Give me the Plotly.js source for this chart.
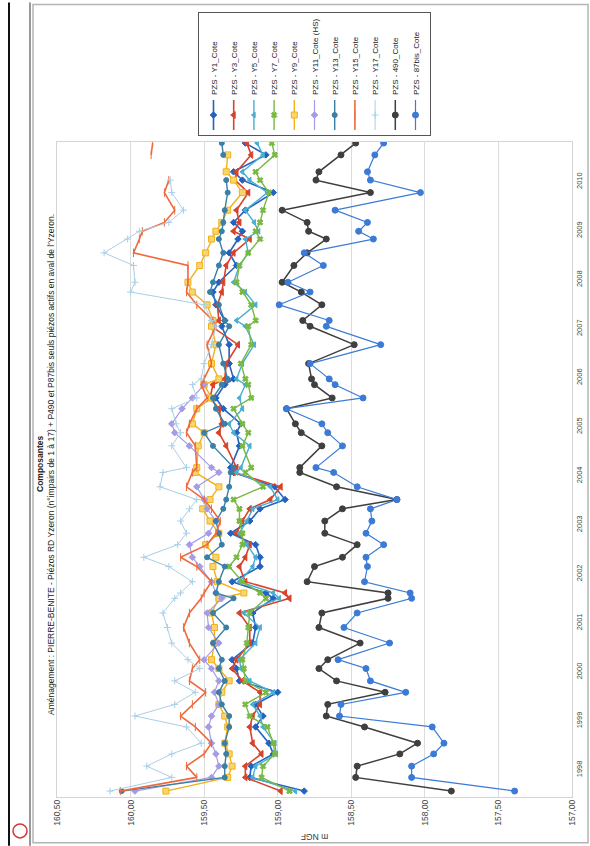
<!DOCTYPE html>
<html>
<head>
<meta charset="utf-8">
<script src="https://cdn.plot.ly/plotly-3.0.1.min.js"></script>
<style>
  html, body { margin: 0; padding: 0; background: #fff; width: 590px; height: 846px; overflow: hidden; }
  /* the sheet is printed in landscape and turned a quarter turn on the page */
  #sheet { position: absolute; left: 0; top: 0; width: 846px; height: 590px;
           transform-origin: 0 0; transform: translate(0, 846px) rotate(-90deg); }
</style>
</head>
<body>
<div id="sheet"></div>
<script>
// measurement dates (shared by all piezometers)
const dates = [
  '1997-07-20','1997-10-30','1998-01-22','1998-04-23','1998-07-12','1998-11-10',
  '1999-01-30','1999-04-27','1999-07-26','1999-10-19','2000-01-19','2000-03-25',
  '2000-07-27','2000-11-20','2001-03-08','2001-06-25','2001-08-04','2001-10-27',
  '2002-02-17','2002-04-27','2002-07-30','2002-10-23','2003-01-22','2003-04-23',
  '2003-07-01','2003-10-04','2004-01-19','2004-02-24','2004-08-04','2004-11-10',
  '2005-01-15','2005-05-08','2005-07-27','2005-11-03','2005-12-16','2006-04-09',
  '2006-08-28','2007-01-12','2007-02-24','2007-06-21','2007-09-24','2007-12-06',
  '2008-04-09','2008-07-12','2008-10-23','2008-12-20','2009-02-24','2009-05-26',
  '2009-10-04','2010-01-05','2010-03-08','2010-07-12','2010-10-08'
];

// water levels, m NGF
const y1 = [158.82,159.19,159.18,159.03,159.06,159.15,159.10,159.15,159.00,159.26,159.28,159.31,159.17,
  159.15,159.17,159.03,159.08,159.31,159.12,159.12,159.15,159.32,159.19,159.12,158.95,159.02,159.30,
  159.32,159.26,159.28,159.25,159.37,159.42,159.36,159.30,159.33,159.33,159.38,159.36,159.42,159.44,
  159.40,159.28,159.33,159.27,159.24,159.30,159.22,159.03,159.24,159.30,159.08,159.22];
const y3 = [158.98,159.22,159.22,159.11,159.17,159.19,159.17,159.12,159.12,159.24,159.31,159.28,159.19,
  159.19,159.26,158.92,158.95,159.22,159.26,159.22,159.19,159.28,159.24,159.19,159.05,158.98,159.30,
  159.28,159.35,159.40,159.38,159.40,159.46,159.44,159.36,159.35,159.27,159.45,159.40,159.41,159.38,
  159.37,159.35,159.30,159.19,159.30,159.26,159.28,159.20,159.29,159.28,159.18,159.21];
const y5 = [158.88,159.17,159.15,159.01,159.02,159.10,159.12,159.17,159.03,159.19,159.25,159.26,159.15,
  159.12,159.23,158.99,159.03,159.26,159.17,159.15,159.21,159.26,159.21,159.17,159.00,159.05,159.28,
  159.25,159.19,159.30,159.33,159.24,159.26,159.22,159.28,159.24,159.16,159.22,159.28,159.15,159.22,
  159.30,159.26,159.20,159.22,159.13,159.16,159.22,159.07,159.19,159.24,159.10,159.14];
const y7 = [158.92,159.11,159.10,159.02,159.03,159.07,159.19,159.22,159.08,159.22,159.23,159.24,159.21,
  159.20,159.19,159.08,159.12,159.24,159.33,159.28,159.24,159.24,159.26,159.26,159.30,159.10,159.22,
  159.18,159.24,159.20,159.24,159.30,159.18,159.20,159.22,159.25,159.18,159.20,159.15,159.18,159.24,
  159.28,159.26,159.20,159.12,159.15,159.12,159.10,159.06,159.12,159.15,159.02,159.04];
const y9 = [159.76,159.34,159.31,159.33,159.36,159.34,159.36,159.40,159.38,159.33,159.40,159.45,159.43,
  159.43,159.45,159.40,159.23,159.41,159.44,159.42,159.49,159.40,159.46,159.51,159.46,159.40,159.56,
  159.55,159.54,159.50,159.58,159.55,159.45,159.50,159.40,159.45,159.42,159.45,159.44,159.48,159.58,
  159.61,159.53,159.49,159.45,159.42,159.38,159.34,159.24,159.30,159.35,159.34,null];
const y11 = [159.97,159.45,159.40,159.42,159.45,159.47,159.45,159.40,159.43,159.40,159.45,159.50,159.40,
  159.47,159.48,159.38,159.42,159.45,159.53,159.58,159.60,159.47,159.42,159.48,159.50,159.55,159.40,
  159.45,159.60,159.70,159.72,159.65,159.58,159.50,null,null,null,null,null,null,null,
  null,null,null,null,null,null,null,null,null,null,null,null];
const y13 = [160.06,159.36,159.36,159.35,159.36,159.33,159.33,159.38,159.40,159.36,159.40,159.38,159.44,
  159.35,159.44,159.30,159.42,159.40,159.36,159.48,159.38,159.40,159.42,159.37,159.35,159.33,159.32,
  159.30,159.44,159.50,159.36,159.42,159.44,159.38,159.34,159.37,159.40,159.33,159.36,159.40,159.46,
  159.44,159.40,159.37,159.40,159.38,159.37,159.36,159.34,159.35,null,159.37,159.38];
const y15 = [160.07,159.55,159.62,159.50,159.45,159.56,159.66,159.58,159.49,159.60,159.58,159.53,159.60,
  159.64,159.60,159.52,159.50,159.45,159.55,159.66,159.48,159.42,159.39,159.45,159.50,159.62,159.58,
  159.55,159.56,159.62,159.60,159.55,159.48,159.52,159.50,159.45,159.48,159.42,159.44,159.55,159.62,
  159.61,159.61,159.98,159.94,159.92,159.77,159.70,159.77,159.74,null,159.86,159.85];
const y17 = [160.14,159.72,159.89,159.72,159.52,159.62,159.97,159.70,159.56,159.70,159.53,159.61,159.72,
  159.75,159.78,159.70,159.66,159.58,159.74,159.91,159.68,159.62,159.66,159.60,159.55,159.80,159.78,
  159.62,159.72,159.66,159.69,159.72,159.55,159.58,159.52,159.50,159.45,159.42,159.45,159.50,160.00,
  159.97,159.98,160.18,160.02,159.94,159.74,159.64,159.72,159.73,null,null,null];
const p490 = [157.82,158.47,158.46,158.17,158.05,158.41,158.67,158.66,158.27,158.60,158.72,158.66,158.44,
  158.72,158.70,158.25,158.25,158.80,158.75,158.56,158.46,158.68,158.68,158.56,158.19,158.60,158.85,
  158.85,158.70,158.84,158.88,158.94,158.63,158.75,158.77,158.79,158.48,158.78,158.83,158.70,158.84,
  158.97,158.89,158.80,158.67,158.79,158.80,158.97,158.37,158.74,158.72,158.57,158.47];
const p87bis = [157.39,158.09,158.09,157.94,157.87,157.95,158.58,158.57,158.13,158.37,158.40,158.59,158.24,
  158.55,158.46,158.09,158.10,158.41,158.39,158.40,158.28,158.40,158.36,158.37,158.19,158.46,158.62,
  158.74,158.56,158.66,158.70,158.94,158.42,158.61,158.65,158.78,158.30,158.67,158.65,158.99,158.78,
  158.93,158.69,158.82,158.35,158.45,158.39,158.61,158.03,158.37,158.39,158.34,158.28];

const seriesNames = ['PZS - Y1_Cote','PZS - Y3_Cote','PZS - Y5_Cote','PZS - Y7_Cote','PZS - Y9_Cote',
  'PZS - Y11_Cote (HS)','PZS - Y13_Cote','PZS - Y15_Cote','PZS - Y17_Cote','PZS - 490_Cote','PZS - 87bis_Cote'];
const seriesValues = [y1, y3, y5, y7, y9, y11, y13, y15, y17, p490, p87bis];
const yTickVals = [157, 157.5, 158, 158.5, 159, 159.5, 160, 160.5];

const chartTitle = 'Composantes';
const chartSubtitle = "Aménagement : PIERRE-BENITE - Piézos RD Yzeron (n°impairs de 1 à 17) + P490 et P87bis seuls piézos actifs en aval de l'Yzeron.";
const yTitle = 'm NGF';

// look of each piezometer series
const styles = [
  {color: '#2462c0', symbol: 'diamond',      size: 5, width: 1.6, fill: '#2462c0'},
  {color: '#d8432b', symbol: 'triangle-up',  size: 6, width: 1.6, fill: '#d8432b'},
  {color: '#4aaed0', symbol: 'triangle-up',  size: 5, width: 1.4, fill: '#4aaed0'},
  {color: '#78b843', symbol: 'x',            size: 5, width: 1.4, fill: '#78b843'},
  {color: '#f2b01a', symbol: 'square',       size: 6, width: 1.4, fill: '#f9d56e'},
  {color: '#a59be6', symbol: 'diamond',      size: 5, width: 1.2, fill: '#a59be6'},
  {color: '#3a7fa6', symbol: 'circle',       size: 5, width: 1.4, fill: '#3a7fa6'},
  {color: '#ee6a3c', symbol: 'line-ew-open', size: 6, width: 1.6, fill: '#ee6a3c'},
  {color: '#a9cfe6', symbol: 'cross-thin-open', size: 5, width: 1.0, fill: '#a9cfe6'},
  {color: '#3f3f3f', symbol: 'circle',       size: 6, width: 1.5, fill: '#3f3f3f'},
  {color: '#3b7bd6', symbol: 'circle',       size: 6, width: 1.2, fill: '#3b7bd6'}
];

const traces = seriesNames.map((name, i) => ({
  type: 'scatter',
  mode: 'lines+markers',
  x: dates,
  y: seriesValues[i],
  name: name,
  legendgroup: 'g' + i,
  line: {color: styles[i].color, width: styles[i].width},
  marker: {symbol: styles[i].symbol, size: styles[i].size, color: styles[i].fill,
           line: {color: styles[i].color, width: 1}},
  connectgaps: false
}));

// sheet geometry (landscape pixels) and helpers to paper coordinates
const W = 846, H = 590, L = 49, R = 140, T = 57, B = 18;
const pw = W - L - R, ph = H - T - B;
const px = u => (u - L) / pw;
const py = v => (H - B - v) / ph;

// sheet frame and the binder margin strip
const shapes = [
  {type: 'rect', xref: 'paper', yref: 'paper', x0: px(3), x1: px(844), y0: py(588), y1: py(33),
   line: {color: '#b4b4b4', width: 1.5}, fillcolor: 'rgba(0,0,0,0)', layer: 'below'},
  {type: 'line', xref: 'paper', yref: 'paper', x0: px(0), x1: px(846), y0: py(9), y1: py(9),
   line: {color: '#111', width: 2}},
  {type: 'line', xref: 'paper', yref: 'paper', x0: px(0), x1: px(846), y0: py(30), y1: py(30),
   line: {color: '#333', width: 1}},
  {type: 'circle', xref: 'paper', yref: 'paper', x0: px(8), x1: px(22), y0: py(27), y1: py(13),
   line: {color: '#d8323a', width: 1.5}}
];

const annotations = [
  {text: '<b>' + chartTitle + '</b>', xref: 'paper', yref: 'paper', x: px(383), y: py(39.5),
   xanchor: 'center', yanchor: 'middle', showarrow: false, font: {size: 8.5, color: '#222'}},
  {text: chartSubtitle, xref: 'paper', yref: 'paper', x: px(383), y: py(51),
   xanchor: 'center', yanchor: 'middle', showarrow: false, font: {size: 8.5, color: '#222'}}
];

const layout = {
  width: W, height: H,
  margin: {l: L, r: R, t: T, b: B, pad: 0},
  paper_bgcolor: '#fff', plot_bgcolor: '#fff',
  font: {family: 'Liberation Sans, Arial, sans-serif', size: 9, color: '#333'},
  separators: ', ',
  showlegend: true,
  xaxis: {
    type: 'date',
    range: ['1997-06-06', '2010-10-16'],
    tick0: '1998-01-01', dtick: 'M12', tickformat: '%Y',
    showgrid: false, zeroline: false,
    showline: true, mirror: true, linecolor: '#d4d4d4', linewidth: 1,
    ticks: '', tickfont: {size: 7.5, color: '#444'}
  },
  yaxis: {
    range: [157, 160.5],
    tickvals: yTickVals, tickformat: '.2f',
    showgrid: true, gridcolor: '#dcdcdc', gridwidth: 1, zeroline: false,
    showline: true, mirror: true, linecolor: '#d4d4d4', linewidth: 1,
    ticks: '', tickfont: {size: 8.5, color: '#444'},
    title: {text: yTitle, font: {size: 8.5, color: '#333'}, standoff: 6}
  },
  legend: {
    x: px(712), xanchor: 'left',
    y: py(198), yanchor: 'top',
    bordercolor: '#555', borderwidth: 1, bgcolor: '#fff',
    font: {size: 8, color: '#222'},
    tracegroupgap: 1.2, itemwidth: 30
  },
  annotations: annotations,
  shapes: shapes
};

Plotly.newPlot('sheet', traces, layout, {staticPlot: true, displayModeBar: false});
</script>
</body>
</html>
